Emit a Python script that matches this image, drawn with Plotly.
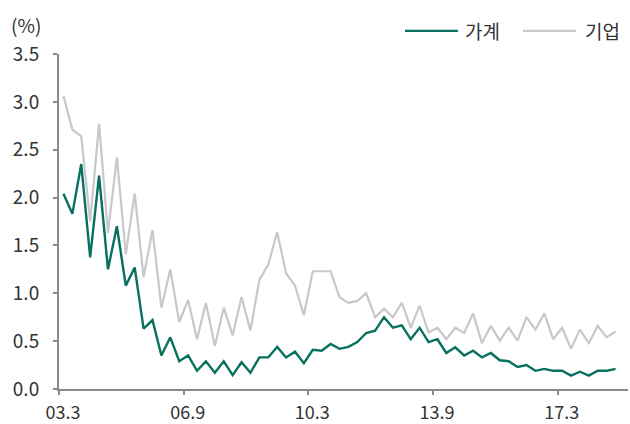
import plotly.graph_objects as go

# Quarterly delinquency rates (%), 2003 Q1 (03.3) through 2018 Q3
quarter_index = list(range(63))
household = [2.04, 1.83, 2.35, 1.375, 2.23, 1.25, 1.70, 1.08, 1.27, 0.63,
             0.72, 0.35, 0.54, 0.29, 0.35, 0.19, 0.29, 0.17, 0.29, 0.145,
             0.28, 0.17, 0.33, 0.33, 0.44, 0.33, 0.39, 0.27, 0.41, 0.40,
             0.47, 0.42, 0.44, 0.49, 0.585, 0.61, 0.75, 0.64, 0.665, 0.52,
             0.64, 0.49, 0.52, 0.376, 0.435, 0.35, 0.40, 0.33, 0.376, 0.30,
             0.29, 0.23, 0.25, 0.19, 0.21, 0.19, 0.19, 0.14, 0.18, 0.14,
             0.19, 0.19, 0.21]
corporate = [3.06, 2.71, 2.64, 1.75, 2.77, 1.63, 2.42, 1.41, 2.04, 1.17,
             1.66, 0.85, 1.25, 0.70, 0.93, 0.52, 0.90, 0.45, 0.85, 0.56,
             0.96, 0.61, 1.14, 1.30, 1.64, 1.21, 1.08, 0.77, 1.23, 1.23,
             1.23, 0.96, 0.90, 0.92, 1.00, 0.75, 0.84, 0.75, 0.90, 0.64,
             0.87, 0.59, 0.64, 0.52, 0.64, 0.585, 0.79, 0.48, 0.66, 0.505,
             0.64, 0.505, 0.75, 0.62, 0.79, 0.52, 0.64, 0.42, 0.62, 0.48,
             0.66, 0.54, 0.60]
tick_labels = ["03.3", "06.9", "10.3", "13.9", "17.3"]
tick_quarters = [0, 14, 28, 42, 56]
y_ticks = [0, 0.5, 1.0, 1.5, 2.0, 2.5, 3.0, 3.5]
series_names = ["가계", "기업"]

GREEN = "#07705f"
GREY = "#c8c8c8"
AXIS = "#8a8a8a"
TEXT = "#333333"
FONT = "Noto Sans CJK KR"

fig = go.Figure()
fig.add_trace(go.Scatter(x=quarter_index, y=corporate, mode="lines",
                         name=series_names[1],
                         line=dict(color=GREY, width=2.2)))
fig.add_trace(go.Scatter(x=quarter_index, y=household, mode="lines",
                         name=series_names[0],
                         line=dict(color=GREEN, width=2.4)))

# category-style axis: tick marks sit between quarters, labels on the quarter
fig.update_xaxes(
    range=[-0.5, 63.4],
    tickvals=[q - 0.5 for q in tick_quarters],
    ticktext=tick_labels,
    ticklabelshift=4,
    ticklabelstandoff=2,
    automargin=False,
    ticks="outside", ticklen=4, tickwidth=1.5, tickcolor=AXIS,
    showline=True, linecolor=AXIS, linewidth=2,
    showgrid=False, zeroline=False,
    tickfont=dict(family=FONT, size=18, color=TEXT),
)
fig.update_yaxes(
    range=[0, 3.5],
    tickvals=y_ticks,
    tickformat=".1f",
    automargin=False,
    ticks="outside", ticklen=4, tickwidth=1.5, tickcolor=AXIS,
    showline=True, linecolor=AXIS, linewidth=2,
    showgrid=False, zeroline=False,
    ticklabelstandoff=10,
    tickfont=dict(family=FONT, size=19, color=TEXT),
)

# unit label and hand-placed legend
fig.add_annotation(text="(%)", xref="paper", yref="paper", x=-0.088, y=1.087,
                   xanchor="left", yanchor="middle", showarrow=False,
                   font=dict(family=FONT, size=19, color=TEXT))
legend_y = 1.069
for (x0, x1, tx), name, color, w in [((0.608, 0.701, 0.710), series_names[0], GREEN, 2.4),
                                     ((0.8155, 0.9086, 0.921), series_names[1], GREY, 2.2)]:
    fig.add_shape(type="line", xref="paper", yref="paper", x0=x0, x1=x1,
                  y0=legend_y, y1=legend_y, line=dict(color=color, width=w))
    fig.add_annotation(text=name, xref="paper", yref="paper", x=tx, y=legend_y,
                       xanchor="left", yanchor="middle", showarrow=False,
                       font=dict(family=FONT, size=19, color=TEXT))

fig.update_layout(
    width=630, height=424,
    margin=dict(l=59, r=2, t=54, b=35),
    paper_bgcolor="white", plot_bgcolor="white",
    showlegend=False,
)

fig.write_html("out.html")
